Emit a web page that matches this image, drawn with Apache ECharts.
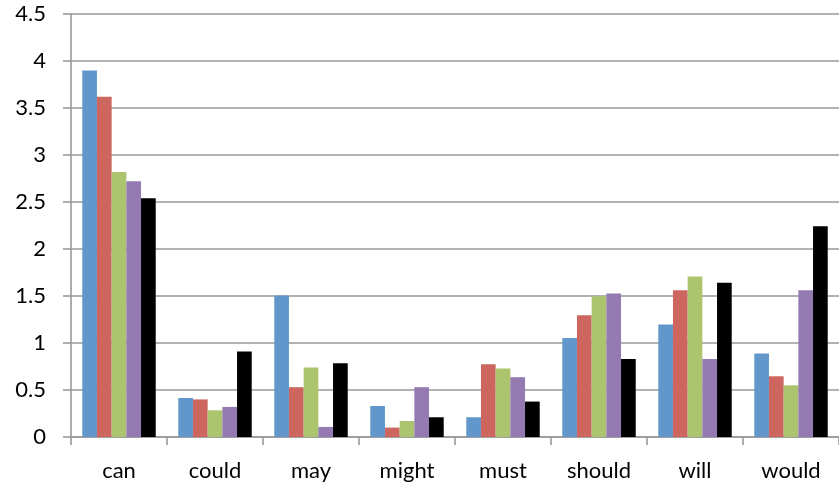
<!DOCTYPE html>
<html>
<head>
<meta charset="utf-8">
<script src="https://cdn.jsdelivr.net/npm/echarts@6/dist/echarts.min.js"></script>
<style>
  html, body { margin: 0; padding: 0; background: #fff; }
  #chart { width: 839px; height: 486px; }
</style>
</head>
<body>
<div id="chart"></div>
<script>
// Modal verbs on the category axis
const categories = ['can', 'could', 'may', 'might', 'must', 'should', 'will', 'would'];

// One array per group of bars (five groups)
const seriesA = [3.90, 0.415, 1.505, 0.33, 0.21, 1.054, 1.197, 0.888];
const seriesB = [3.62, 0.40, 0.53, 0.10, 0.774, 1.296, 1.562, 0.646];
const seriesC = [2.82, 0.284, 0.74, 0.17, 0.728, 1.498, 1.708, 0.55];
const seriesD = [2.72, 0.32, 0.107, 0.53, 0.636, 1.527, 0.83, 1.562];
const seriesE = [2.54, 0.91, 0.785, 0.21, 0.377, 0.83, 1.64, 2.243];

const colors = ['#6197CB', '#CD665F', '#ABC46D', '#937BB1', '#000000'];
const font = 'Lato, "Open Sans", sans-serif';

const chart = echarts.init(document.getElementById('chart'));
chart.setOption({
  animation: false,
  grid: { left: 71, right: -5, top: 14, bottom: 49, containLabel: false },
  xAxis: {
    type: 'category',
    data: categories,
    axisLine: { lineStyle: { color: '#999', width: 1.6 } },
    axisTick: { show: true, length: 8, lineStyle: { color: '#999', width: 1.6 } },
    axisLabel: { color: '#000', fontSize: 22, fontFamily: font, margin: 23 }
  },
  yAxis: {
    type: 'value',
    min: 0,
    max: 4.5,
    interval: 0.5,
    axisLine: { show: true, lineStyle: { color: '#999', width: 1.6 } },
    axisTick: { show: true, length: 8, lineStyle: { color: '#999', width: 1.6 } },
    splitLine: { lineStyle: { color: '#999', width: 1.6 } },
    axisLabel: { color: '#000', fontSize: 22, fontFamily: font, margin: 25 }
  },
  series: [seriesA, seriesB, seriesC, seriesD, seriesE].map((d, i) => ({
    type: 'bar',
    data: d,
    barGap: '0%',
    barCategoryGap: '23.5%',
    itemStyle: { color: colors[i] }
  }))
});
</script>
</body>
</html>
